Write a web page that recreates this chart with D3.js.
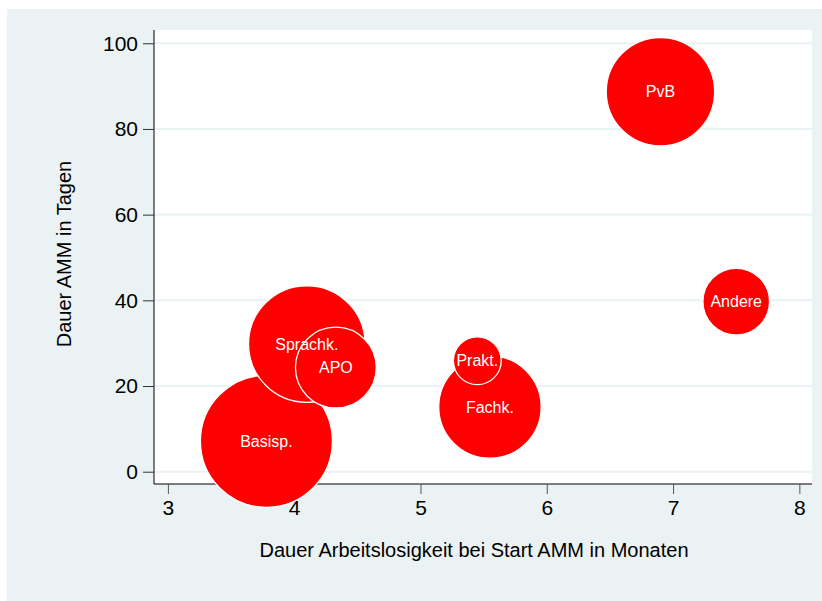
<!DOCTYPE html>
<html>
<head>
<meta charset="utf-8">
<style>
  body { margin: 0; background: #ffffff; }
  text { font-family: "Liberation Sans", Arial, sans-serif; }
</style>
</head>
<body>
<div id="chart"></div>
<script src="https://d3js.org/d3.v7.min.js"></script>
<script>
// bubble data
const measures = ["Basisp.", "Sprachk.", "APO", "Fachk.", "Prakt.", "PvB", "Andere"];
const monthsUnemployed = [3.78, 4.10, 4.33, 5.55, 5.45, 6.90, 7.50];
const daysAMM = [7.1, 29.8, 24.3, 15.1, 25.9, 88.7, 39.7];
const weights = [100, 78, 37.5, 60.2, 13.1, 67.4, 25.5];
const xTicks = [3, 4, 5, 6, 7, 8];
const yTicks = [0, 20, 40, 60, 80, 100];

const W = 822, H = 601;
const plot = {left: 154, right: 812, top: 30, bottom: 484};
const bg = "#eaf2f3";

const data = measures.map(function(m, i) {
  return {name: m, x: monthsUnemployed[i], y: daysAMM[i], w: weights[i]};
});

const svg = d3.select("#chart").append("svg")
  .attr("width", W)
  .attr("height", H);

// graph region
svg.append("rect")
  .attr("x", 7).attr("y", 9)
  .attr("width", W - 7).attr("height", H - 9)
  .attr("fill", bg);

// plot region
svg.append("rect")
  .attr("x", plot.left).attr("y", plot.top)
  .attr("width", plot.right - plot.left).attr("height", plot.bottom - plot.top)
  .attr("fill", "#ffffff");

const x = d3.scaleLinear().domain([2.89, 8.1]).range([plot.left, plot.right]);
const y = d3.scaleLinear().domain([-2.87, 103.1]).range([plot.bottom, plot.top]);
const r = d3.scaleSqrt().domain([0, 100]).range([0, 66]);

// gridlines
svg.append("g")
  .selectAll("line")
  .data(yTicks)
  .enter().append("line")
    .attr("x1", plot.left).attr("x2", plot.right)
    .attr("y1", function(d) { return y(d); })
    .attr("y2", function(d) { return y(d); })
    .attr("stroke", bg)
    .attr("stroke-width", 2);

// y axis
const yAxis = svg.append("g")
  .attr("transform", "translate(" + plot.left + ",0)")
  .call(d3.axisLeft(y).tickValues(yTicks).tickFormat(d3.format("d"))
    .tickSize(11).tickPadding(5).tickSizeOuter(0));
yAxis.select(".domain").attr("d", "M0," + plot.top + "V" + plot.bottom).attr("stroke", "#000");
yAxis.selectAll(".tick line").attr("stroke", "#333");
yAxis.selectAll(".tick text")
  .attr("font-size", "21px")
  .attr("fill", "#000")
  .attr("font-family", "Liberation Sans, Arial, sans-serif");

// x axis
const xAxis = svg.append("g")
  .attr("transform", "translate(0," + plot.bottom + ")")
  .call(d3.axisBottom(x).tickValues(xTicks).tickFormat(d3.format("d"))
    .tickSize(10).tickPadding(6).tickSizeOuter(0));
xAxis.select(".domain").attr("d", "M" + plot.left + ",0H" + plot.right).attr("stroke", "#000");
xAxis.selectAll(".tick line").attr("stroke", "#555");
xAxis.selectAll(".tick text")
  .attr("font-size", "21px")
  .attr("fill", "#000")
  .attr("font-family", "Liberation Sans, Arial, sans-serif");

// bubbles
svg.append("g")
  .selectAll("circle")
  .data(data)
  .enter().append("circle")
    .attr("cx", function(d) { return x(d.x); })
    .attr("cy", function(d) { return y(d.y); })
    .attr("r", function(d) { return r(d.w); })
    .attr("fill", "#ff0000")
    .attr("stroke", "#ffffff")
    .attr("stroke-width", 1.3);

// bubble labels
svg.append("g")
  .selectAll("text")
  .data(data)
  .enter().append("text")
    .attr("x", function(d) { return x(d.x); })
    .attr("y", function(d) { return y(d.y); })
    .attr("dy", "0.35em")
    .attr("text-anchor", "middle")
    .attr("font-size", "16px")
    .attr("fill", "#ffffff")
    .text(function(d) { return d.name; });

// axis titles
svg.append("text")
  .attr("x", (plot.left + plot.right) / 2 - 9)
  .attr("y", 557)
  .attr("text-anchor", "middle")
  .attr("font-size", "20px")
  .attr("fill", "#000")
  .text("Dauer Arbeitslosigkeit bei Start AMM in Monaten");

svg.append("text")
  .attr("transform", "translate(71," + ((plot.top + plot.bottom) / 2 - 3) + ") rotate(-90)")
  .attr("text-anchor", "middle")
  .attr("font-size", "20px")
  .attr("fill", "#000")
  .text("Dauer AMM in Tagen");
</script>
</body>
</html>
